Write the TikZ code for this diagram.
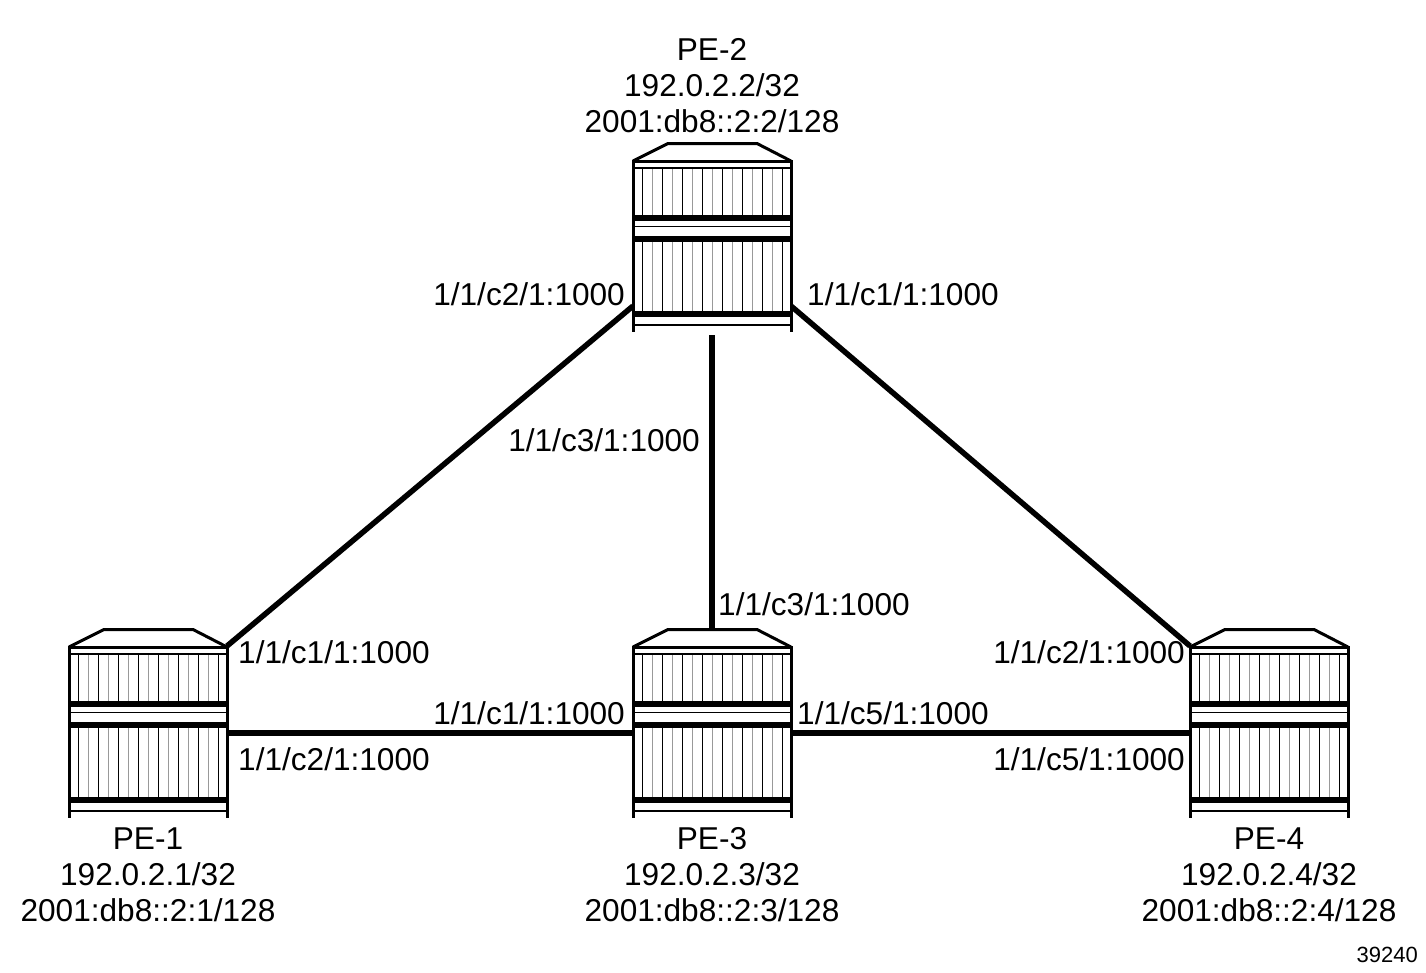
\documentclass[tikz,border=0pt]{standalone}
\usepackage{fontspec}
\setmainfont{Liberation Sans}
\begin{document}
\begin{tikzpicture}[x=1pt,y=-1pt,
  router/.style={minimum width=158pt, minimum height=190pt, inner sep=0pt, outer sep=0pt, draw=none},
  lbl/.style={font=\fontsize{31.6}{36}\selectfont, inner sep=0pt},
  tag/.style={font=\fontsize{22}{24}\selectfont, inner sep=0pt},
  link/.style={line width=5.5pt},
  routericon/.pic={
    \fill[white] (0,18) -- (35,0) -- (124,0) -- (158,18) -- (158,190) -- (0,190) -- cycle;
    \foreach \xx in {9.5,29.5,...,149.5} {
      \draw[line width=1.2pt] (\xx,26) -- (\xx,73);
      \draw[line width=1.2pt] (\xx,100) -- (\xx,169);
    }
    \foreach \xx in {19.5,39.5,...,139.5} {
      \draw[line width=1.2pt, black!40] (\xx,26) -- (\xx,73);
      \draw[line width=1.2pt, black!40] (\xx,100) -- (\xx,169);
    }
    \draw[line width=3pt, line join=miter] (0,19) -- (35,1.5) -- (124,1.5) -- (158,19);
    \draw[line width=3pt] (0,19.5) -- (158,19.5);
    \draw[line width=1.6pt] (0,26) -- (158,26);
    \fill (0,73) rectangle (158,79);
    \draw[line width=1.6pt] (0,84.5) -- (158,84.5);
    \fill (0,94) rectangle (158,100);
    \fill (0,169) rectangle (158,175);
    \draw[line width=1.6pt] (0,183) -- (158,183);
    \draw[line width=3pt] (0,18) -- (0,190);
    \draw[line width=3pt] (158,18) -- (158,190);
  }]
\useasboundingbox (0,0) rectangle (1426,972);
\fill[white] (0,0) rectangle (1426,972);

% routers
\node[router] (pe1) at (148,723) {};
\node[router] (pe2) at (712,237) {};
\node[router] (pe3) at (712,723) {};
\node[router] (pe4) at (1269,723) {};

% links
\draw[link] ([yshift=-18pt]pe1.north east) -- ([yshift=-164pt]pe2.north west);
\draw[link] ([yshift=-164pt]pe2.north east) -- ([yshift=-18pt]pe4.north west);
\draw[link] ([yshift=-3pt]pe2.south) -- (pe3.north);
\draw[link] ([yshift=-105pt]pe1.north east) -- ([yshift=-105pt]pe3.north west);
\draw[link] ([yshift=-105pt]pe3.north east) -- ([yshift=-105pt]pe4.north west);

% icons
\pic at (pe1.north west) {routericon};
\pic at (pe2.north west) {routericon};
\pic at (pe3.north west) {routericon};
\pic at (pe4.north west) {routericon};

% router labels
\node[lbl, align=center, anchor=base] (t2) at (712,132) {PE-2\\192.0.2.2/32\\2001:db8::2:2/128};
\node[lbl, align=center, anchor=base] (t1) at (148,921) {PE-1\\192.0.2.1/32\\2001:db8::2:1/128};
\node[lbl, align=center, anchor=base] (t3) at (712,921) {PE-3\\192.0.2.3/32\\2001:db8::2:3/128};
\node[lbl, align=center, anchor=base] (t4) at (1269,921) {PE-4\\192.0.2.4/32\\2001:db8::2:4/128};

% port labels
\node[lbl, anchor=base east] (l2a) at (625,305) {1/1/c2/1:1000};
\node[lbl, anchor=base west] (l2b) at (807,305) {1/1/c1/1:1000};
\node[lbl, anchor=base east] (l2c) at (700,451) {1/1/c3/1:1000};
\node[lbl, anchor=base west] (l3a) at (718,615) {1/1/c3/1:1000};
\node[lbl, anchor=base west] (l1a) at (238,663) {1/1/c1/1:1000};
\node[lbl, anchor=base west] (l1b) at (238,770) {1/1/c2/1:1000};
\node[lbl, anchor=base east] (l3b) at (625,724) {1/1/c1/1:1000};
\node[lbl, anchor=base west] (l3c) at (797,724) {1/1/c5/1:1000};
\node[lbl, anchor=base east] (l4a) at (1185,663) {1/1/c2/1:1000};
\node[lbl, anchor=base east] (l4b) at (1185,770) {1/1/c5/1:1000};

\node[tag, anchor=base east] (fig) at (1418,962) {39240};
\end{tikzpicture}
\end{document}
